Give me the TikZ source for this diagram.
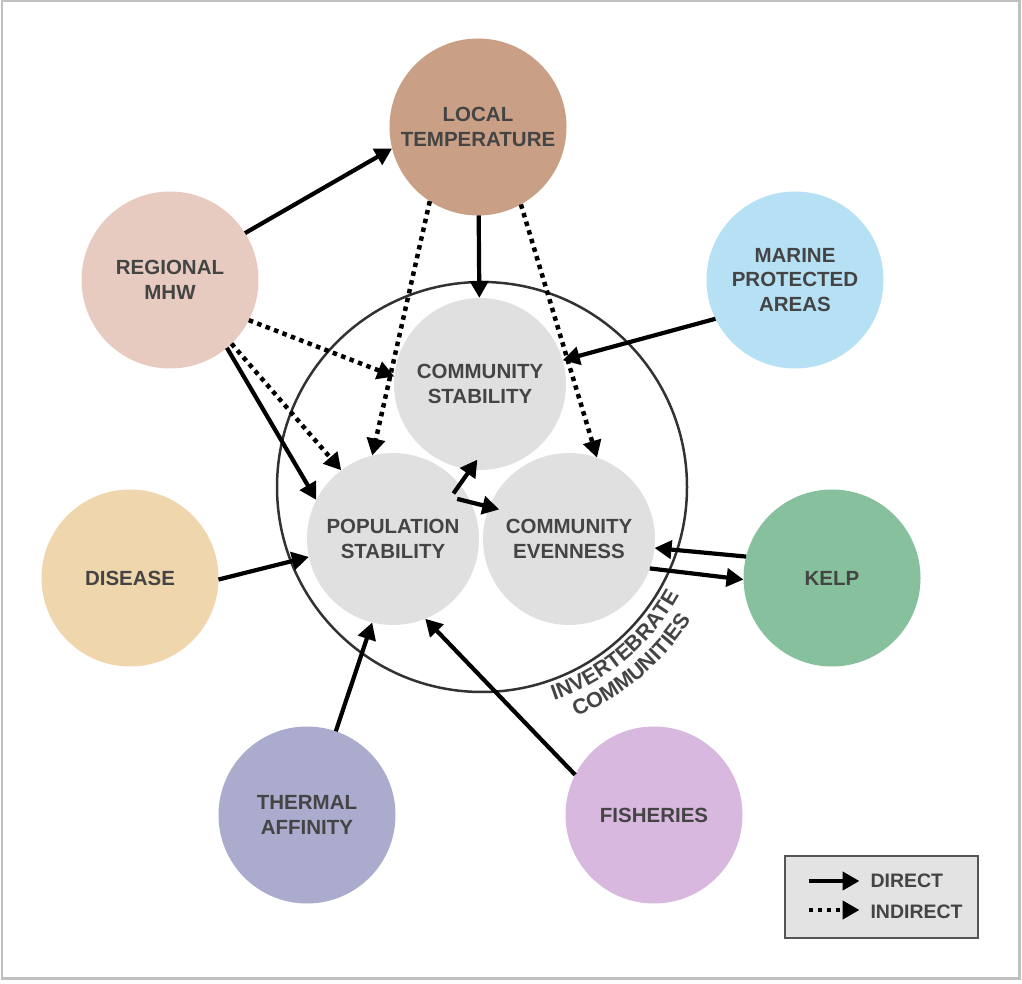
\documentclass[tikz,border=0pt]{standalone}
\usepackage{fontspec}
\setmainfont{Liberation Sans}
\usetikzlibrary{calc,arrows.meta,decorations.text}
\definecolor{txt}{RGB}{68,68,68}
\definecolor{resp}{RGB}{224,224,224}
\definecolor{loctemp}{RGB}{201,160,134}
\definecolor{mhw}{RGB}{232,203,192}
\definecolor{mpa}{RGB}{182,225,245}
\definecolor{disease}{RGB}{240,214,172}
\definecolor{kelp}{RGB}{134,192,156}
\definecolor{thermal}{RGB}{171,171,206}
\definecolor{fish}{RGB}{216,184,222}
\definecolor{invline}{RGB}{50,50,50}
\definecolor{framecol}{RGB}{192,192,192}
\definecolor{keyfill}{RGB}{227,227,227}
\definecolor{keyline}{RGB}{85,85,85}

\begin{document}
\begin{tikzpicture}[x=1pt,y=1pt,every node/.style={outer sep=0pt}]
\tikzstyle{factor}=[circle,inner sep=0pt,minimum size=177pt,text=txt,align=center,font=\bfseries\fontsize{20.5}{24.5}\selectfont]
\tikzstyle{response}=[factor,fill=resp,minimum size=172pt]
\tikzstyle{direct}=[line width=4.2pt,-{Triangle[length=17pt,width=18pt]}]
\tikzstyle{indirect}=[direct,line width=4.5pt,dash pattern=on 4.5pt off 4.5pt]
\tikzstyle{keytext}=[inner sep=0pt,anchor=west,text=txt,font=\bfseries\fontsize{19.5}{24.5}\selectfont]

\useasboundingbox (0,0) rectangle (1022,983);
\draw [framecol,line width=2.5pt] (2,4.5) rectangle (1019.5,982.5);

\node (LT) [factor,fill=loctemp] at (478,856) {LOCAL\\TEMPERATURE};
\node (MHW) [factor,fill=mhw] at (170,703) {REGIONAL\\MHW};
\node (MPA) [factor,fill=mpa] at (795,703) {MARINE\\PROTECTED\\AREAS};
\node (DIS) [factor,fill=disease] at (130,405) {DISEASE};
\node (KELP) [factor,fill=kelp] at (832,405) {KELP};
\node (TA) [factor,fill=thermal] at (307,168) {THERMAL\\AFFINITY};
\node (FISH) [factor,fill=fish] at (654,168) {FISHERIES};

\node (INV) [circle,draw=invline,line width=2.5pt,minimum size=410pt] at (482,496) {};
\node (CS) [response] at (480,599) {COMMUNITY\\STABILITY};
\node (PS) [response] at (393,444) {POPULATION\\STABILITY};
\node (CE) [response] at (569,444) {COMMUNITY\\EVENNESS};

\path [decorate,decoration={text along path,text align=center,text color=txt,
  text={|\bfseries\fontsize{21.5}{22}\selectfont|INVERTEBRATE}}]
  ([shift={(-85:225)}]INV.center) arc [start angle=-85,end angle=-15,radius=225];
\path [decorate,decoration={text along path,text align=center,text color=txt,
  text={|\bfseries\fontsize{21.5}{22}\selectfont|COMMUNITIES}}]
  ([shift={(-85:248)}]INV.center) arc [start angle=-85,end angle=-15,radius=248];

% direct effects
\draw [direct] (MHW.32) -- (LT.194);
\draw [direct] (LT) -- (CS);
\draw [direct] (MPA.206) -- (CS.16);
\draw [direct] (MHW.-50) -- (PS.153);
\draw [direct] (DIS.-1) -- (PS.192);
\draw [direct] (KELP.166) -- (CE.-6);
\draw [direct] (CE.-20) -- (KELP.181);
\draw [direct] (TA.71) -- (PS.256);
\draw [direct] (FISH.153) -- (PS.-68);
\draw [direct] ($(PS.center)!.88!(PS.37)$) -- ($(CS.center)!.88!(CS.268)$);
\draw [direct] ($(PS.center)!.88!(PS.32)$) -- ($(CE.center)!.88!(CE.157)$);

% indirect effects
\draw [indirect] (LT.237) -- (PS.104);
\draw [indirect] (LT.-61) -- (CE.71);
\draw [indirect] (MHW.-27) -- (CS.175);
\draw [indirect] (MHW.-46) -- (PS.127);

% legend
\node (key) [draw=keyline,line width=2pt,fill=keyfill,minimum width=193pt,minimum height=82pt] at (881.5,86) {};
\node (dtxt) [keytext] at (870.5,102) {DIRECT};
\node (itxt) [keytext] at (870.5,71) {INDIRECT};
\draw [direct] ($(dtxt.west)+(-62,0)$) -- ($(dtxt.west)+(-11,0)$);
\draw [indirect] ($(itxt.west)+(-62,2)$) -- ($(itxt.west)+(-11,2)$);
\end{tikzpicture}
\end{document}
